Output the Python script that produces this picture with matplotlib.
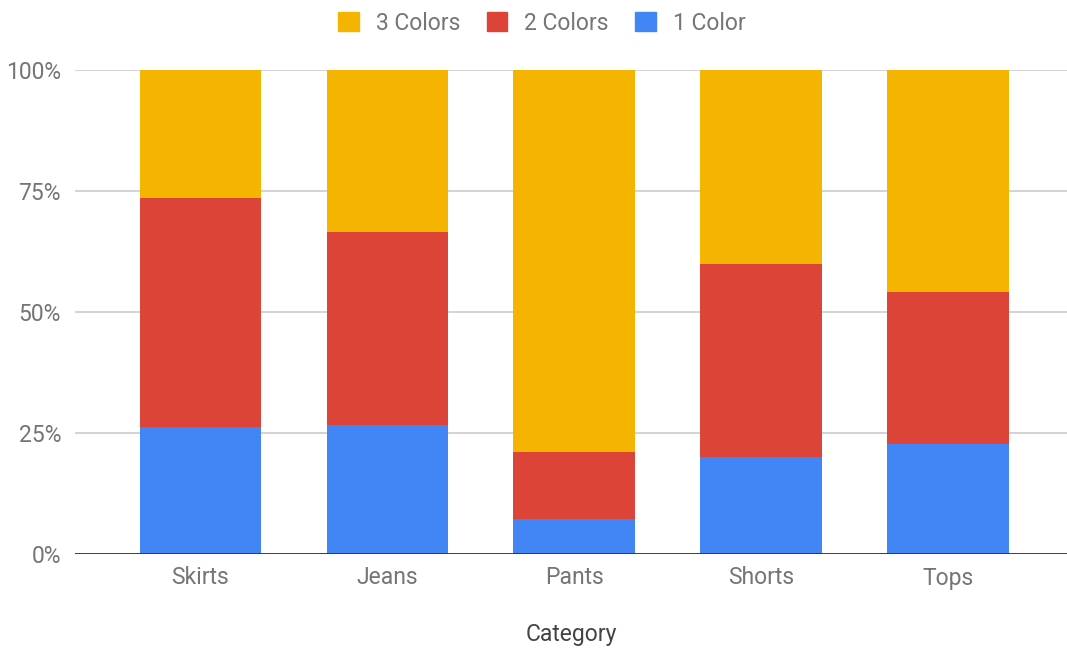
import matplotlib.pyplot as plt
import numpy as np
from matplotlib.patches import Patch
from matplotlib.ticker import FuncFormatter

plt.rcParams["font.family"] = ["Roboto", "DejaVu Sans"]

categories = ["Skirts", "Jeans", "Pants", "Shorts", "Tops"]
one_color = [26.3, 26.6, 7.2, 20.0, 22.8]
two_colors = [47.3, 39.9, 13.9, 39.9, 31.3]
three_colors = [26.4, 33.5, 78.9, 40.1, 45.9]

BLUE = "#4285F4"
RED = "#DB4437"
YELLOW = "#F4B400"

fig = plt.figure(figsize=(10.67, 6.48), dpi=100)
ax = fig.add_axes([75 / 1067, 1 - 554 / 648, 992 / 1067, 484 / 648])

x = np.arange(len(categories))
width = 0.65
b1 = np.array(one_color)
b2 = b1 + np.array(two_colors)
ax.bar(x, one_color, width, color=BLUE, zorder=3)
ax.bar(x, two_colors, width, bottom=b1, color=RED, zorder=3)
ax.bar(x, three_colors, width, bottom=b2, color=YELLOW, zorder=3)

ax.set_xlim(-0.67, 4.635)
ax.set_ylim(0, 100)
ax.set_yticks([0, 25, 50, 75, 100])
ax.yaxis.set_major_formatter(FuncFormatter(lambda v, _: f"{v:.0f}%"))
ax.set_xticks(x)
ax.set_xticklabels(categories)
ax.grid(axis="y", color="#cccccc", linewidth=1.2, zorder=0)
ax.axhline(0, color="#333333", linewidth=2.0, zorder=4)

for side in ["top", "right", "left", "bottom"]:
    ax.spines[side].set_visible(False)
ax.tick_params(axis="both", length=0, labelsize=16.5, colors="#757575")
ax.tick_params(axis="y", pad=10)
ax.tick_params(axis="x", pad=9)

ax.set_xlabel("Category", fontsize=16.5, color="#444444", labelpad=24)

handles = [Patch(color=YELLOW), Patch(color=RED), Patch(color=BLUE)]
labels = ["3 Colors", "2 Colors", "1 Color"]
leg = fig.legend(handles, labels, loc="center", bbox_to_anchor=(542 / 1067, 1 - 23 / 648),
                 ncol=3, frameon=False, fontsize=16.5, handlelength=0.9, handleheight=0.9,
                 handletextpad=0.75, columnspacing=1.15)
for t in leg.get_texts():
    t.set_color("#757575")

fig.savefig("out.png", dpi=100)
